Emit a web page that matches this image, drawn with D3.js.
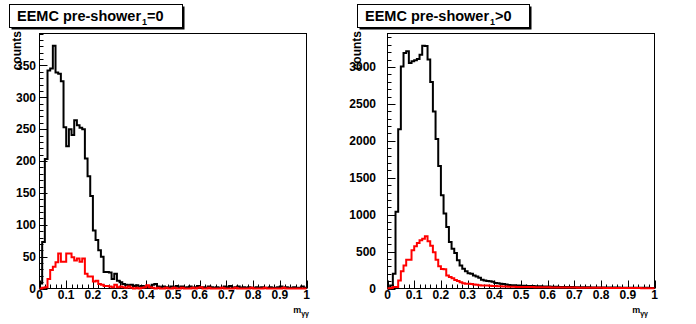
<!DOCTYPE html>
<html><head><meta charset="utf-8">
<script src="https://cdn.jsdelivr.net/npm/d3@7"></script>
<style>
body{margin:0;background:#fff}
svg{display:block}
text{font-family:"Liberation Sans",Arial,Helvetica,sans-serif;font-weight:bold;fill:#000}
</style>
</head><body>
<svg id="c" width="696" height="324"></svg>
<script>
// ---------------- data ----------------
const xLimits = [0, 1];           // histogram range, 100 equal bins
const leftAll = [8,73,203,342,345,381,339,337,325,253,223,250,241,264,256,252,250,204,176,145,
  91,76,60,50,26,26,25,15,23,12,10,7,6,5,6,4,5,3,4,3,
  2,3,6,7,3,2,3,2,1,3,2,4,2,3,1,2,3,1,2,4,
  1,2,1,3,2,1,2,1,1,3,2,4,1,2,3,1,2,1,2,1,
  1,2,1,2,1,1,2,1,1,2,3,1,2,1,1,2,1,1,3,1];
const leftSel = [0,1,2,15,29,34,41,55,42,42,55,55,49,44,47,42,47,23,19,19,
  11,12,7,6,4,4,3,2,6,2,3,2,1,3,1,0,1,0,1,2,
  5,2,1,0,1,0,0,1,0,0,1,0,0,1,0,0,0,1,0,1,
  2,0,0,1,0,0,0,0,1,0,0,0,0,1,0,0,0,0,0,1,
  0,0,0,0,1,0,0,0,0,0,0,1,0,0,0,0,0,0,0,0];
const rightAll = [10,40,200,1040,2157,3008,3190,3212,3054,3076,3090,3108,3167,3289,3285,3100,2796,2397,2025,1658,
  1264,1015,833,629,539,480,381,313,267,235,208,199,177,163,145,118,109,100,99,90,
  73,70,63,60,55,48,45,43,42,40,38,36,35,35,33,32,30,30,28,28,
  27,25,25,24,22,22,21,20,20,19,18,18,17,17,16,16,15,15,14,14,
  14,13,13,13,12,12,12,11,11,11,10,10,10,10,9,9,9,9,8,8];
const rightSel = [3,8,20,20,109,235,313,390,390,517,571,616,652,675,707,640,580,490,390,300,
  265,260,175,155,138,115,100,86,70,63,63,60,55,50,45,42,40,40,38,35,
  33,30,30,28,26,25,24,24,22,22,21,20,20,19,19,18,18,17,17,16,
  16,15,15,14,14,13,13,13,12,12,12,11,11,11,10,10,10,9,9,9,
  9,8,8,8,8,7,7,7,7,7,6,6,6,6,6,5,5,5,5,5];
const xTickLabels = ["0","0.1","0.2","0.3","0.4","0.5","0.6","0.7","0.8","0.9","1"];
const leftYTicks = [0,50,100,150,200,250,300,350];
const rightYTicks = [0,500,1000,1500,2000,2500,3000];
const titleMain = "EEMC pre-shower";
const titleSub = "1";
const titleTails = ["=0", ">0"];
const yTitle = "counts";
const xTitleMain = "m";
const xTitleSub = "\u03b3\u03b3";

// ---------------- drawing ----------------
const svg = d3.select("#c");
const panels = [
  {all:leftAll, sel:leftSel, yTicks:leftYTicks, minor:10, tail:titleTails[0],
   fl:39.5, fr:306.5, ft:33.5, fb:288.5, box:[9.5,4.5,173,23], tx:17, ylx:36, ytx:21, xtx:309},
  {all:rightAll, sel:rightSel, yTicks:rightYTicks, minor:100, tail:titleTails[1],
   fl:387.5, fr:654.5, ft:33.5, fb:288.5, box:[357.5,4.5,172,23], tx:365, ylx:376, ytx:361, xtx:648}
];

panels.forEach(p => {
  const n = p.all.length;
  const w = (xLimits[1]-xLimits[0])/n;
  const x = d3.scaleLinear().domain(xLimits).range([p.fl, p.fr]);
  const yMax = d3.max(p.all)*1.05;
  const y = d3.scaleLinear().domain([0, yMax]).range([p.fb, p.ft]);
  const g = svg.append("g");

  // frame
  g.append("rect").attr("x",p.fl).attr("y",p.ft).attr("width",p.fr-p.fl).attr("height",p.fb-p.ft)
    .attr("fill","none").attr("stroke","#000").attr("stroke-width",1);

  // y ticks
  const majorY = p.yTicks;
  const minorY = d3.range(0, yMax, p.minor).filter(v => !majorY.includes(v));
  g.selectAll(null).data(majorY).enter().append("line")
    .attr("x1",p.fl).attr("x2",p.fl+8).attr("y1",d=>Math.round(y(d))+0.5).attr("y2",d=>Math.round(y(d))+0.5)
    .attr("stroke","#000");
  g.selectAll(null).data(minorY).enter().append("line")
    .attr("x1",p.fl).attr("x2",p.fl+4).attr("y1",d=>Math.round(y(d))+0.5).attr("y2",d=>Math.round(y(d))+0.5)
    .attr("stroke","#000");
  g.selectAll(null).data(majorY).enter().append("text")
    .attr("x",p.ylx).attr("y",d=>y(d)+4.3).attr("text-anchor","end").attr("font-size",12)
    .text(d=>d);

  // x ticks
  const majorX = xTickLabels.map(Number);
  const minorX = d3.range(0, 50).map(i => i*0.02).filter(v => Math.abs(v*10-Math.round(v*10))>1e-6);
  g.selectAll(null).data(majorX).enter().append("line")
    .attr("x1",d=>Math.round(x(d))+0.5).attr("x2",d=>Math.round(x(d))+0.5).attr("y1",p.fb).attr("y2",p.fb-8)
    .attr("stroke","#000");
  g.selectAll(null).data(minorX).enter().append("line")
    .attr("x1",d=>Math.round(x(d))+0.5).attr("x2",d=>Math.round(x(d))+0.5).attr("y1",p.fb).attr("y2",p.fb-4)
    .attr("stroke","#000");
  g.selectAll(null).data(xTickLabels).enter().append("text")
    .attr("x",d=>x(+d)).attr("y",299).attr("text-anchor","middle").attr("font-size",12)
    .text(d=>d);

  // histograms
  const line = d3.line().x(d=>x(d[0])).y(d=>y(d[1])).curve(d3.curveStepAfter);
  const pts = arr => arr.map((v,i)=>[xLimits[0]+i*w, v]).concat([[xLimits[1], arr[arr.length-1]]]);
  g.append("path").attr("d", line(pts(p.all))).attr("fill","none").attr("stroke","#000").attr("stroke-width",2);
  g.append("path").attr("d", line(pts(p.sel))).attr("fill","none").attr("stroke","#ff0000").attr("stroke-width",2);

  // y title
  g.append("text").attr("transform",`translate(${p.ytx},31) rotate(-90)`).attr("text-anchor","end")
    .attr("font-size",12).text(yTitle);

  // x title
  const xt = g.append("text").attr("x",p.xtx).attr("y",313).attr("text-anchor","end").attr("font-size",9);
  xt.append("tspan").text(xTitleMain);
  xt.append("tspan").attr("font-size",7).attr("dy",3).text(xTitleSub);

  // title box
  const [bx,by,bw,bh] = p.box;
  g.append("rect").attr("x",bx+2).attr("y",by+2).attr("width",bw).attr("height",bh).attr("fill","#000");
  g.append("rect").attr("x",bx).attr("y",by).attr("width",bw).attr("height",bh).attr("fill","#fff").attr("stroke","#000");
  const tt = g.append("text").attr("x",p.tx).attr("y",21).attr("font-size",14.5);
  tt.append("tspan").text(titleMain);
  tt.append("tspan").attr("font-size",9).attr("dy",4).attr("dx",1).text(titleSub);
  tt.append("tspan").attr("dy",-4).text(p.tail);
});
</script>
</body></html>
